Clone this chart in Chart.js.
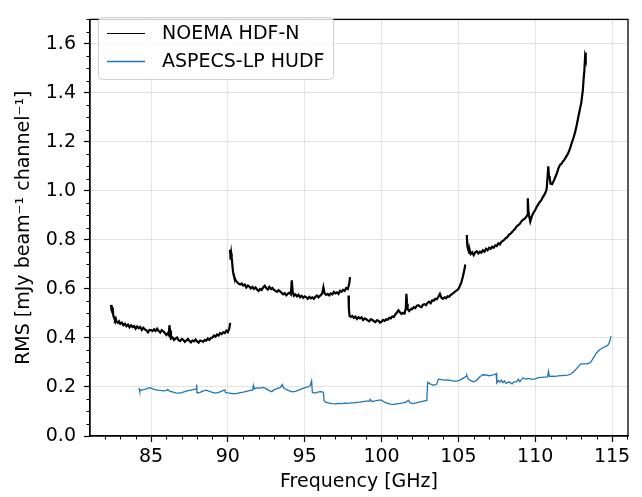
<!DOCTYPE html>
<html>
<head>
<meta charset="utf-8">
<script src="https://cdn.jsdelivr.net/npm/chart.js@4/dist/chart.umd.min.js"></script>
<style>
html,body{margin:0;padding:0;background:#fff;}
#wrap{width:642px;height:497px;}
</style>
</head>
<body>
<div id="wrap"><canvas id="c" width="642" height="497"></canvas></div>
<script>
// ---- Data (frequency [GHz], RMS [mJy/beam/channel]) ----
const seriesNames = ["NOEMA HDF-N", "ASPECS-LP HUDF"];
const xTickLabels = [85, 90, 95, 100, 105, 110, 115];
const yTickLabels = [0.0, 0.2, 0.4, 0.6, 0.8, 1.0, 1.2, 1.4, 1.6];

const noemaSeg1 = [[82.40,0.535],[82.43,0.51],[82.45,0.528],[82.48,0.505],[82.50,0.525],[82.55,0.49],[82.6,0.482],[82.65,0.474],[82.7,0.48],[82.75,0.468],[82.85,0.462],[82.92,0.468],[83.0,0.458],[83.1,0.463],[83.2,0.452],[83.3,0.458],[83.4,0.448],[83.5,0.455],[83.6,0.444],[83.7,0.452],[83.8,0.445],[83.9,0.449],[84.0,0.438],[84.1,0.447],[84.2,0.44],[84.3,0.445],[84.4,0.433],[84.5,0.442],[84.6,0.435],[84.7,0.431],[84.8,0.423],[84.9,0.433],[85.0,0.432],[85.1,0.428],[85.2,0.436],[85.3,0.429],[85.4,0.438],[85.5,0.428],[85.6,0.422],[85.7,0.432],[85.8,0.427],[85.9,0.42],[86.0,0.412],[86.1,0.42],[86.15,0.414],[86.2,0.452],[86.24,0.43],[86.3,0.398],[86.4,0.402],[86.5,0.392],[86.6,0.398],[86.7,0.402],[86.8,0.39],[86.9,0.388],[87.0,0.396],[87.1,0.392],[87.2,0.384],[87.3,0.39],[87.4,0.396],[87.5,0.388],[87.6,0.382],[87.7,0.39],[87.8,0.386],[87.9,0.394],[88.0,0.386],[88.1,0.381],[88.2,0.39],[88.3,0.388],[88.4,0.384],[88.5,0.392],[88.6,0.389],[88.7,0.398],[88.8,0.392],[88.9,0.4],[89.0,0.402],[89.1,0.41],[89.2,0.405],[89.3,0.414],[89.4,0.41],[89.5,0.42],[89.6,0.416],[89.7,0.423],[89.8,0.42],[89.9,0.43],[90.0,0.424],[90.05,0.432],[90.1,0.44],[90.15,0.462]];
const noemaSeg2 = [[90.14,0.76],[90.18,0.72],[90.22,0.745],[90.25,0.73],[90.32,0.68],[90.36,0.662],[90.4,0.652],[90.45,0.645],[90.5,0.636],[90.6,0.628],[90.7,0.622],[90.8,0.618],[90.9,0.622],[91.0,0.614],[91.1,0.618],[91.2,0.606],[91.3,0.614],[91.4,0.61],[91.5,0.602],[91.6,0.608],[91.7,0.6],[91.8,0.606],[91.9,0.598],[92.0,0.592],[92.1,0.6],[92.2,0.596],[92.3,0.606],[92.4,0.613],[92.5,0.604],[92.6,0.598],[92.7,0.608],[92.8,0.6],[92.9,0.604],[93.0,0.596],[93.1,0.592],[93.2,0.588],[93.3,0.595],[93.4,0.59],[93.5,0.584],[93.6,0.578],[93.7,0.583],[93.8,0.574],[93.9,0.58],[94.0,0.585],[94.1,0.578],[94.16,0.635],[94.22,0.588],[94.3,0.572],[94.4,0.578],[94.5,0.57],[94.6,0.576],[94.7,0.566],[94.8,0.572],[94.9,0.564],[95.0,0.57],[95.1,0.566],[95.2,0.56],[95.3,0.568],[95.4,0.562],[95.5,0.566],[95.6,0.56],[95.7,0.568],[95.8,0.573],[95.9,0.566],[96.0,0.572],[96.1,0.578],[96.15,0.584],[96.22,0.607],[96.3,0.582],[96.4,0.576],[96.5,0.58],[96.6,0.574],[96.7,0.582],[96.8,0.578],[96.9,0.588],[97.0,0.582],[97.1,0.586],[97.2,0.58],[97.3,0.592],[97.4,0.588],[97.5,0.596],[97.6,0.592],[97.7,0.604],[97.8,0.6],[97.85,0.61],[97.9,0.622],[97.95,0.648]];
const noemaSeg3 = [[97.85,0.573],[97.87,0.53],[97.88,0.52],[97.92,0.49],[98.0,0.486],[98.1,0.49],[98.2,0.482],[98.3,0.487],[98.4,0.478],[98.5,0.485],[98.6,0.48],[98.7,0.484],[98.8,0.473],[98.9,0.479],[99.0,0.477],[99.1,0.472],[99.2,0.468],[99.3,0.476],[99.4,0.474],[99.5,0.468],[99.6,0.465],[99.7,0.472],[99.8,0.47],[99.9,0.463],[100.0,0.466],[100.1,0.474],[100.2,0.47],[100.3,0.476],[100.4,0.474],[100.5,0.482],[100.6,0.48],[100.7,0.488],[100.8,0.486],[100.9,0.496],[101.0,0.504],[101.1,0.513],[101.2,0.505],[101.3,0.498],[101.4,0.503],[101.5,0.5],[101.58,0.52],[101.62,0.58],[101.66,0.54],[101.7,0.518],[101.8,0.51],[101.86,0.514],[101.95,0.52],[102.0,0.518],[102.1,0.526],[102.2,0.522],[102.3,0.532],[102.4,0.534],[102.5,0.528],[102.6,0.526],[102.7,0.536],[102.8,0.538],[102.9,0.534],[103.0,0.544],[103.1,0.548],[103.2,0.542],[103.3,0.554],[103.4,0.552],[103.5,0.56],[103.6,0.558],[103.7,0.568],[103.8,0.58],[103.85,0.572],[103.9,0.564],[104.0,0.56],[104.1,0.566],[104.2,0.562],[104.3,0.57],[104.4,0.568],[104.5,0.575],[104.6,0.58],[104.7,0.584],[104.8,0.59],[104.9,0.594],[105.0,0.6],[105.1,0.612],[105.2,0.628],[105.3,0.652],[105.4,0.68],[105.45,0.70]];
const noemaSeg4 = [[105.55,0.82],[105.58,0.78],[105.6,0.77],[105.65,0.76],[105.7,0.748],[105.75,0.756],[105.8,0.743],[105.9,0.75],[106.0,0.738],[106.1,0.75],[106.2,0.754],[106.3,0.745],[106.4,0.752],[106.5,0.748],[106.6,0.758],[106.7,0.752],[106.8,0.764],[106.9,0.758],[107.0,0.768],[107.1,0.764],[107.2,0.772],[107.3,0.768],[107.4,0.778],[107.5,0.775],[107.6,0.786],[107.7,0.782],[107.8,0.792],[107.9,0.796],[108.0,0.802],[108.1,0.808],[108.2,0.812],[108.3,0.822],[108.4,0.826],[108.5,0.832],[108.6,0.84],[108.7,0.846],[108.8,0.856],[108.9,0.86],[109.0,0.866],[109.1,0.876],[109.2,0.882],[109.3,0.886],[109.4,0.892],[109.48,0.9],[109.52,0.97],[109.56,0.92],[109.6,0.9],[109.68,0.875],[109.75,0.89],[109.8,0.9],[109.9,0.912],[110.0,0.922],[110.1,0.935],[110.2,0.945],[110.3,0.955],[110.4,0.962],[110.5,0.975],[110.6,0.985],[110.7,0.998],[110.75,1.01],[110.82,1.07],[110.85,1.1],[110.9,1.06],[110.95,1.05],[111.0,1.03],[111.1,1.028],[111.2,1.04],[111.3,1.055],[111.4,1.07],[111.5,1.09],[111.6,1.105],[111.7,1.11],[111.8,1.12],[111.9,1.128],[112.0,1.138],[112.1,1.148],[112.2,1.162],[112.3,1.18],[112.4,1.2],[112.5,1.218],[112.6,1.24],[112.7,1.268],[112.8,1.3],[112.9,1.33],[113.0,1.36],[113.1,1.41],[113.15,1.455],[113.2,1.49],[113.25,1.55],[113.28,1.54],[113.3,1.565]];

const aspecs = [[84.22,0.195],[84.26,0.183],[84.4,0.188],[84.6,0.19],[84.8,0.195],[85.0,0.196],[85.2,0.19],[85.4,0.187],[85.6,0.186],[85.8,0.184],[86.0,0.186],[86.1,0.19],[86.2,0.183],[86.4,0.18],[86.6,0.176],[86.8,0.175],[87.0,0.177],[87.2,0.181],[87.4,0.185],[87.6,0.187],[87.8,0.19],[87.95,0.192],[87.97,0.21],[88.0,0.176],[88.2,0.178],[88.4,0.184],[88.6,0.187],[88.8,0.182],[89.0,0.178],[89.2,0.175],[89.4,0.178],[89.6,0.183],[89.8,0.188],[89.85,0.178],[90.0,0.176],[90.2,0.174],[90.4,0.172],[90.6,0.174],[90.8,0.177],[91.0,0.179],[91.2,0.182],[91.4,0.185],[91.62,0.188],[91.66,0.205],[91.7,0.192],[91.9,0.196],[92.1,0.195],[92.3,0.198],[92.5,0.192],[92.7,0.185],[92.86,0.181],[93.0,0.188],[93.2,0.193],[93.4,0.197],[93.55,0.21],[93.6,0.198],[93.8,0.19],[94.0,0.184],[94.2,0.18],[94.4,0.182],[94.6,0.187],[94.8,0.192],[95.0,0.196],[95.2,0.2],[95.35,0.204],[95.45,0.225],[95.5,0.178],[95.7,0.175],[95.9,0.18],[96.1,0.181],[96.22,0.178],[96.26,0.145],[96.35,0.138],[96.6,0.134],[96.8,0.132],[97.0,0.131],[97.2,0.133],[97.4,0.132],[97.6,0.134],[97.8,0.133],[98.0,0.135],[98.2,0.135],[98.4,0.137],[98.6,0.138],[98.8,0.14],[99.0,0.142],[99.2,0.142],[99.26,0.15],[99.35,0.141],[99.6,0.143],[99.8,0.146],[100.0,0.146],[100.2,0.138],[100.4,0.133],[100.6,0.13],[100.8,0.129],[101.0,0.131],[101.2,0.133],[101.4,0.135],[101.6,0.138],[101.75,0.146],[101.85,0.136],[102.0,0.132],[102.2,0.134],[102.4,0.137],[102.6,0.14],[102.8,0.143],[102.95,0.145],[103.0,0.219],[103.2,0.212],[103.4,0.207],[103.6,0.212],[103.7,0.232],[103.9,0.23],[104.1,0.228],[104.3,0.229],[104.5,0.227],[104.7,0.224],[104.9,0.224],[105.1,0.228],[105.3,0.235],[105.5,0.243],[105.55,0.248],[105.65,0.232],[105.8,0.226],[106.0,0.221],[106.2,0.228],[106.4,0.242],[106.6,0.25],[106.8,0.249],[107.0,0.246],[107.2,0.248],[107.4,0.252],[107.46,0.255],[107.5,0.217],[107.6,0.226],[107.7,0.22],[107.8,0.228],[107.9,0.218],[108.0,0.225],[108.1,0.215],[108.3,0.221],[108.5,0.213],[108.6,0.22],[108.8,0.222],[108.9,0.232],[109.0,0.222],[109.2,0.237],[109.4,0.232],[109.6,0.235],[109.8,0.231],[110.0,0.233],[110.2,0.238],[110.4,0.239],[110.6,0.24],[110.8,0.241],[110.87,0.264],[110.92,0.243],[111.1,0.244],[111.3,0.243],[111.5,0.245],[111.7,0.246],[111.9,0.247],[112.1,0.248],[112.3,0.252],[112.5,0.262],[112.7,0.275],[112.9,0.29],[113.0,0.294],[113.2,0.294],[113.4,0.294],[113.6,0.3],[113.8,0.32],[114.0,0.34],[114.2,0.352],[114.4,0.36],[114.6,0.366],[114.75,0.372],[114.85,0.385],[114.93,0.408]];

// ---- build datasets ----
function toPts(pairs){ return pairs.map(p => ({x: p[0], y: p[1]})); }
const gap = {x: NaN, y: null};
const noemaData = [].concat(toPts(noemaSeg1), [gap], toPts(noemaSeg2), [gap], toPts(noemaSeg3), [gap], toPts(noemaSeg4));
const aspecsData = toPts(aspecs);

const FONT = "'DejaVu Sans', 'Liberation Sans', sans-serif";
const FS = 19;
Chart.defaults.font.family = FONT;
Chart.defaults.font.size = FS;
Chart.defaults.color = '#000';

const extras = {
  id: 'extras',
  afterDraw(chart) {
    const ctx = chart.ctx;
    const a = chart.chartArea;
    const xs = chart.scales.x, ys = chart.scales.y;
    ctx.save();
    // minor ticks
    ctx.strokeStyle = '#000';
    ctx.lineWidth = 1;
    ctx.beginPath();
    for (let f = 82; f <= 116; f++) {
      if (f % 5 === 0) continue;
      const px = Math.round(xs.getPixelForValue(f)) + 0.5;
      if (px > a.right) continue;
      ctx.moveTo(px, a.bottom); ctx.lineTo(px, a.bottom + 3.5);
    }
    for (let k = 1; k <= 34; k++) {
      if (k % 4 === 0) continue;
      const v = k * 0.05;
      const py = Math.round(ys.getPixelForValue(v)) + 0.5;
      if (py < a.top) continue;
      ctx.moveTo(a.left, py); ctx.lineTo(a.left - 3.5, py);
    }
    ctx.stroke();
    // spines
    ctx.lineWidth = 1.3;
    ctx.strokeRect(a.left, a.top, a.right - a.left, a.bottom - a.top);
    // legend
    const lx = 98.5, ly = 17.5, lw = 235, lh = 62, r = 4;
    ctx.beginPath();
    ctx.moveTo(lx + r, ly);
    ctx.arcTo(lx + lw, ly, lx + lw, ly + lh, r);
    ctx.arcTo(lx + lw, ly + lh, lx, ly + lh, r);
    ctx.arcTo(lx, ly + lh, lx, ly, r);
    ctx.arcTo(lx, ly, lx + lw, ly, r);
    ctx.closePath();
    ctx.fillStyle = 'rgba(255,255,255,0.8)';
    ctx.fill();
    ctx.strokeStyle = '#d0d0d0';
    ctx.lineWidth = 1;
    ctx.stroke();
    const rows = [33.5, 61.5];
    chart.data.datasets.forEach((ds, i) => {
      ctx.strokeStyle = ds.borderColor;
      ctx.lineWidth = i === 0 ? 1.0 : 1.3;
      ctx.beginPath();
      ctx.moveTo(107, rows[i]); ctx.lineTo(145, rows[i]);
      ctx.stroke();
      ctx.fillStyle = '#000';
      ctx.font = FS + 'px ' + FONT;
      ctx.textBaseline = 'middle';
      ctx.textAlign = 'left';
      ctx.fillText(ds.label, 162, rows[i] + 1);
    });
    ctx.restore();
  }
};

new Chart(document.getElementById('c'), {
  type: 'scatter',
  data: {
    datasets: [
      { label: seriesNames[0], data: noemaData, borderColor: '#000000', backgroundColor: '#000000',
        showLine: true, borderWidth: 2.2, pointRadius: 0, tension: 0, spanGaps: false },
      { label: seriesNames[1], data: aspecsData, borderColor: '#1f77b4', backgroundColor: '#1f77b4',
        showLine: true, borderWidth: 1.3, pointRadius: 0, tension: 0, spanGaps: false }
    ]
  },
  options: {
    responsive: false,
    animation: false,
    devicePixelRatio: 1,
    layout: { padding: { top: 7, right: 14, left: 0, bottom: 0 } },
    plugins: { legend: { display: false }, tooltip: { enabled: false } },
    scales: {
      x: {
        type: 'linear', min: 81.03, max: 116.04,
        afterFit(s) { s.height = 61; },
        afterBuildTicks(s) { s.ticks = xTickLabels.map(v => ({value: v})); },
        ticks: { includeBounds: false, stepSize: 5, padding: 4, color: '#000', font: { size: FS },
                 maxRotation: 0, autoSkip: false, callback: v => String(v) },
        grid: { color: '#e3e3e3', lineWidth: 1, drawTicks: true, tickLength: 6, tickColor: '#000', tickWidth: 1.2 },
        border: { display: true, color: '#000', width: 1.3 },
        title: { display: true, text: 'Frequency [GHz]', color: '#000', font: { size: FS }, padding: { top: 0, bottom: 4 } }
      },
      y: {
        type: 'linear', min: 0, max: 1.7,
        afterFit(s) { s.width = 90; },
        afterBuildTicks(s) { s.ticks = yTickLabels.map(v => ({value: v})); },
        ticks: { includeBounds: false, stepSize: 0.2, padding: 8, color: '#000', font: { size: FS },
                 autoSkip: false, callback: v => Number(v).toFixed(1) },
        grid: { color: '#e3e3e3', lineWidth: 1, drawTicks: true, tickLength: 6, tickColor: '#000', tickWidth: 1.2 },
        border: { display: true, color: '#000', width: 1.3 },
        title: { display: true, text: 'RMS [mJy beam\u207B\u00B9 channel\u207B\u00B9]', color: '#000', font: { size: FS }, padding: { top: 13, bottom: 0 } }
      }
    }
  },
  plugins: [extras]
});
</script>
</body>
</html>
